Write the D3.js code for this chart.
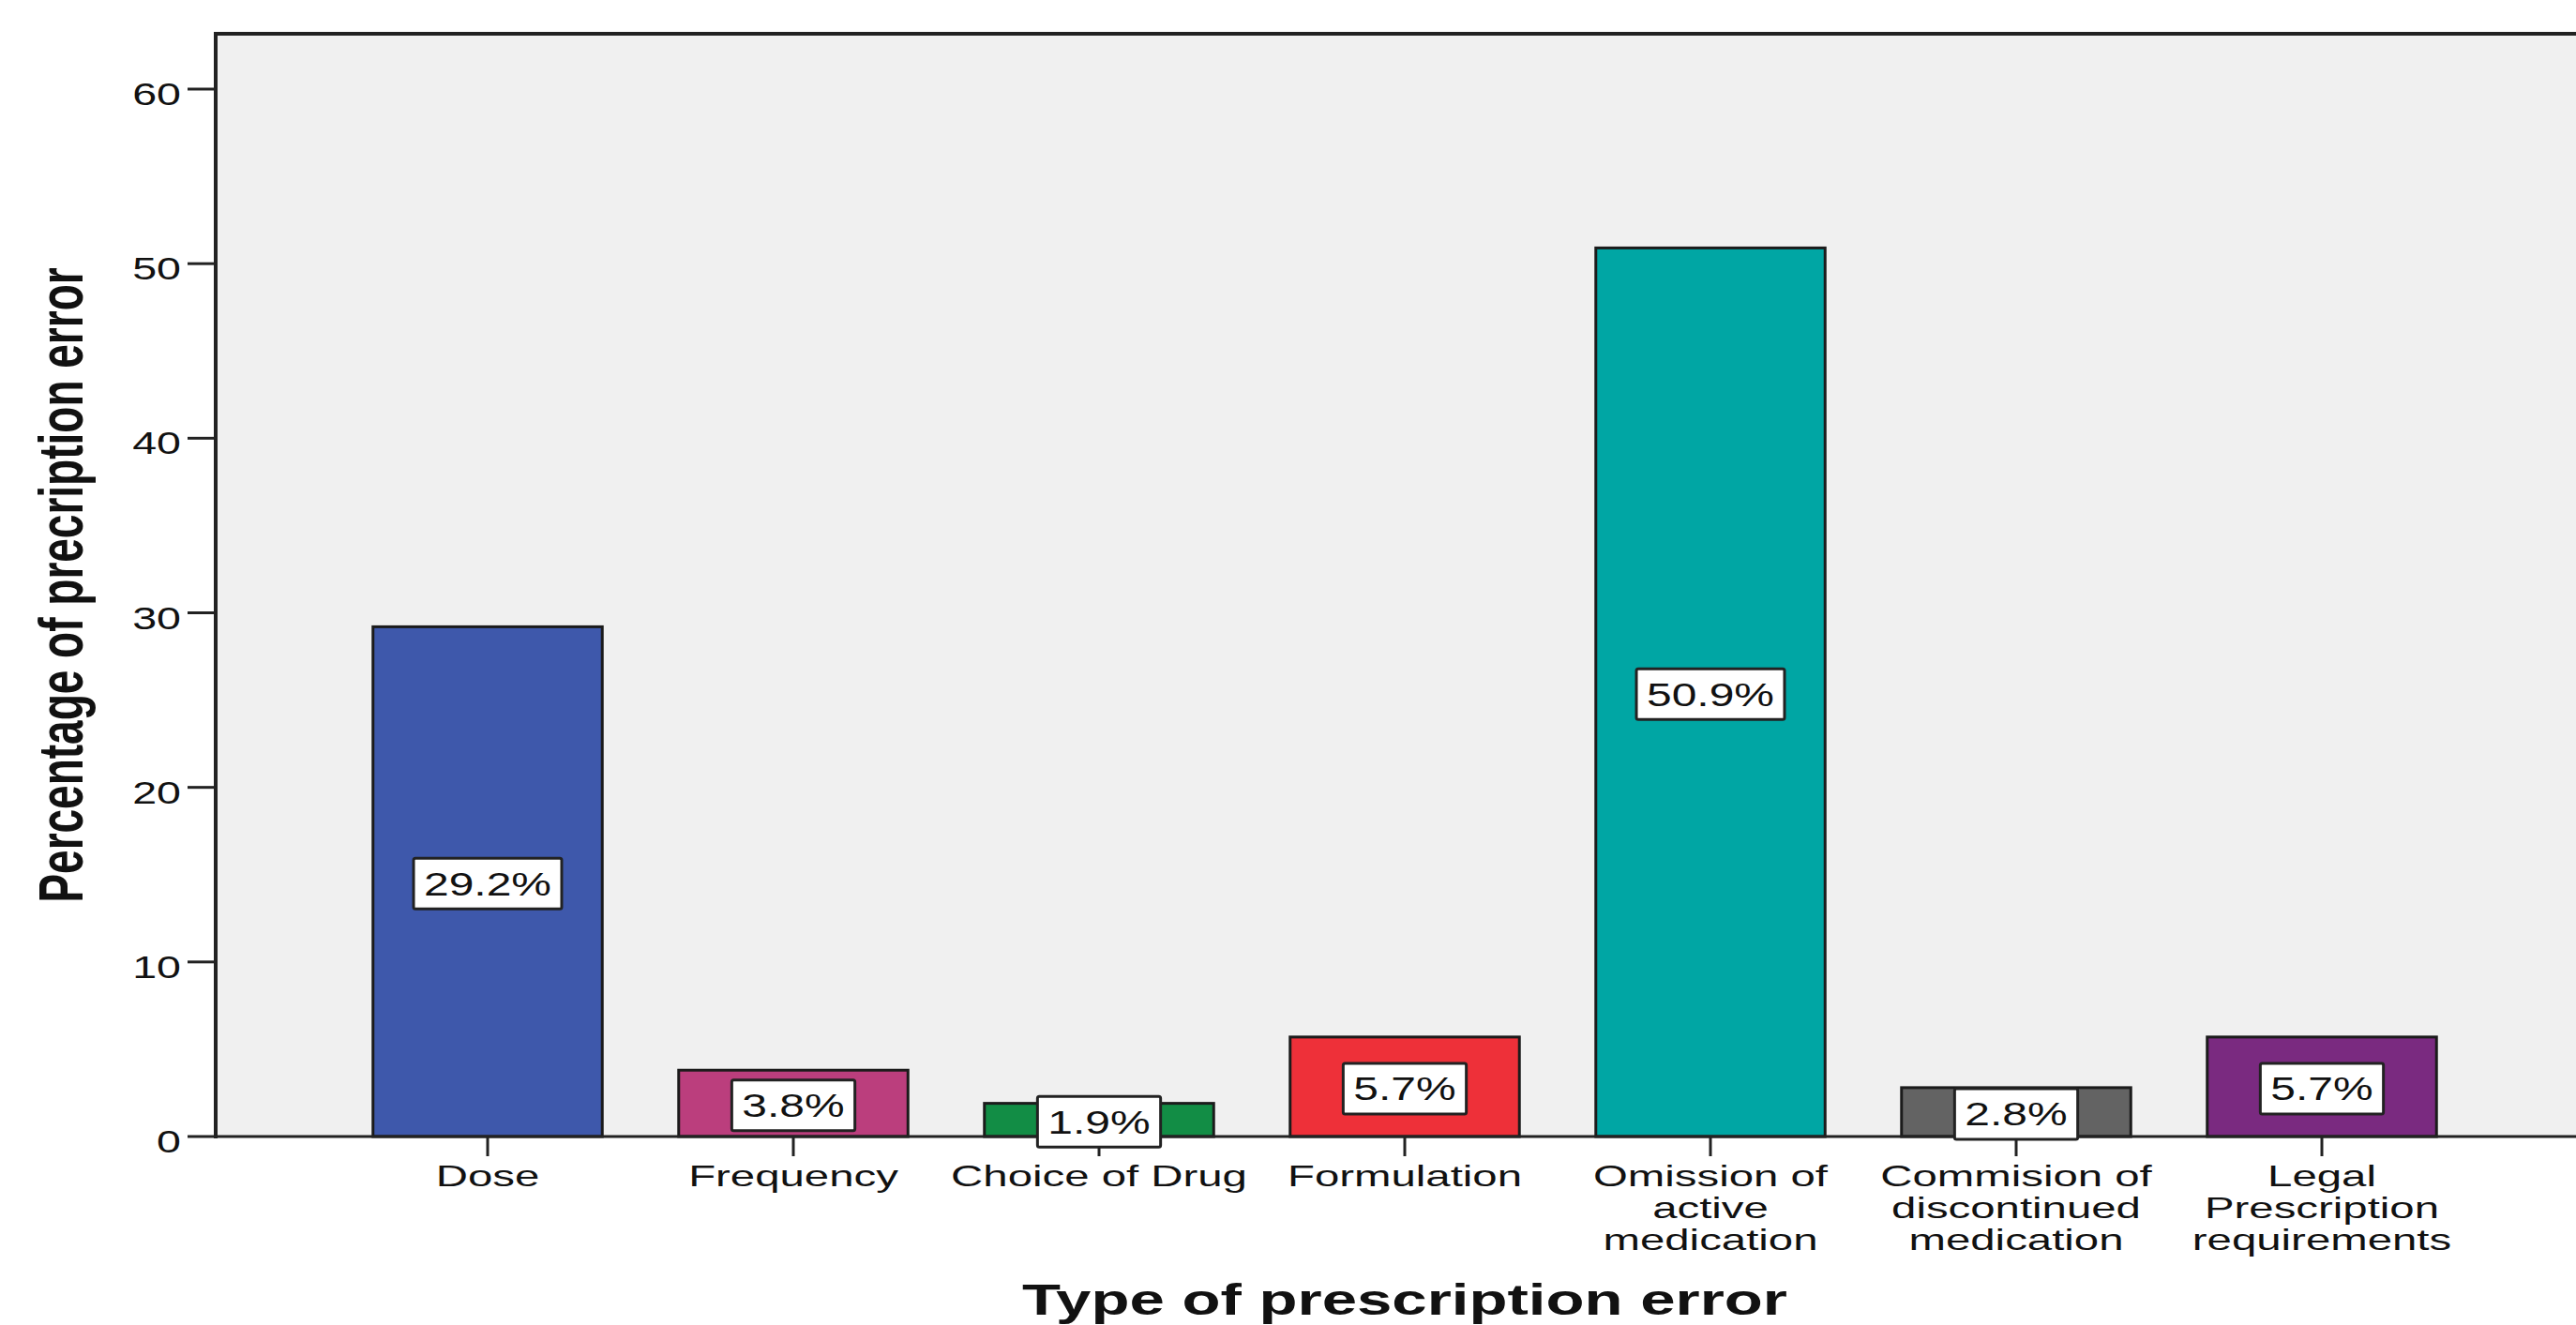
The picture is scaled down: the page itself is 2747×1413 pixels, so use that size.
<!DOCTYPE html>
<html>
<head>
<meta charset="utf-8">
<script src="https://cdn.jsdelivr.net/npm/d3@7"></script>
<style>
  body { margin: 0; background: #ffffff; }
  svg { display: block; }
  text { font-family: "Liberation Sans", Arial, sans-serif; fill: #111; }
</style>
</head>
<body>
<div id="chart"></div>
<script>
// chart data
const categories = ["Dose", "Frequency", "Choice of Drug", "Formulation",
    "Omission of active medication", "Commision of discontinued medication",
    "Legal Prescription requirements"];
const labelLines = [
    ["Dose"], ["Frequency"], ["Choice of Drug"], ["Formulation"],
    ["Omission of", "active", "medication"],
    ["Commision of", "discontinued", "medication"],
    ["Legal", "Prescription", "requirements"]
];
const values = [29.2, 3.8, 1.9, 5.7, 50.9, 2.8, 5.7];
const barColors = ["#3e58ab", "#bb3e7d", "#128d45", "#ee3039", "#00a6a4", "#636363", "#7a2a80"];
const yTicks = [0, 10, 20, 30, 40, 50, 60];

const W = 2747, H = 1413;
const plot = { left: 230, top: 36, bottom: 1212 };
// the source picture is stretched sideways, so text is widened to match
const stretch = { tick: 1.37, value: 1.37, cat: 1.48, title: 1.46 };

const svg = d3.select("#chart").append("svg")
    .attr("width", W)
    .attr("height", H);

const x = d3.scaleBand()
    .domain(categories)
    .range([357, 2639])
    .paddingInner(0.25)
    .paddingOuter(0.125);

const y = d3.scaleLinear()
    .domain([0, 60])
    .range([plot.bottom, 95]);

// plot background
svg.append("rect")
    .attr("x", plot.left)
    .attr("y", plot.top)
    .attr("width", W - plot.left)
    .attr("height", plot.bottom - plot.top)
    .attr("fill", "#f0f0f0");

// bars
svg.append("g")
    .selectAll("rect")
    .data(values)
    .join("rect")
    .attr("x", (d, i) => x(categories[i]))
    .attr("y", d => y(d))
    .attr("width", x.bandwidth())
    .attr("height", d => y(0) - y(d))
    .attr("fill", (d, i) => barColors[i])
    .attr("stroke", "#1b1b1b")
    .attr("stroke-width", 3);

// frame: top line, left axis, bottom axis
svg.append("line")
    .attr("x1", plot.left).attr("x2", W)
    .attr("y1", plot.top).attr("y2", plot.top)
    .attr("stroke", "#222").attr("stroke-width", 4);

svg.append("line")
    .attr("x1", plot.left).attr("x2", plot.left)
    .attr("y1", plot.top - 2).attr("y2", plot.bottom + 2)
    .attr("stroke", "#222").attr("stroke-width", 4);

svg.append("line")
    .attr("x1", plot.left).attr("x2", W)
    .attr("y1", plot.bottom).attr("y2", plot.bottom)
    .attr("stroke", "#222").attr("stroke-width", 3);

// y ticks and labels
const yTick = svg.append("g")
    .selectAll("g")
    .data(yTicks)
    .join("g");

yTick.append("line")
    .attr("x1", 200).attr("x2", plot.left)
    .attr("y1", d => y(d)).attr("y2", d => y(d))
    .attr("stroke", "#222").attr("stroke-width", 3);

yTick.append("text")
    .attr("transform", d => `translate(193,${y(d) + 17}) scale(${stretch.tick},1)`)
    .attr("text-anchor", "end")
    .attr("font-size", 34)
    .text(d => d);

// x ticks and category labels
const xTick = svg.append("g")
    .selectAll("g")
    .data(categories)
    .join("g");

xTick.append("line")
    .attr("x1", d => x(d) + x.bandwidth() / 2)
    .attr("x2", d => x(d) + x.bandwidth() / 2)
    .attr("y1", plot.bottom).attr("y2", plot.bottom + 21)
    .attr("stroke", "#222").attr("stroke-width", 3);

xTick.each(function(d, i) {
    const cx = x(d) + x.bandwidth() / 2;
    d3.select(this).selectAll("text")
        .data(labelLines[i])
        .join("text")
        .attr("transform", (t, j) => `translate(${cx},${1265 + j * 34}) scale(${stretch.cat},1)`)
        .attr("text-anchor", "middle")
        .attr("font-size", 32)
        .text(t => t);
});

// value labels in white boxes at half bar height
const valueLabel = svg.append("g")
    .selectAll("g")
    .data(values)
    .join("g")
    .attr("transform", (d, i) => `translate(${x(categories[i]) + x.bandwidth() / 2},${y(d / 2) + 2})`);

valueLabel.append("rect")
    .attr("fill", "#ffffff")
    .attr("stroke", "#222")
    .attr("stroke-width", 3)
    .attr("rx", 2);

const valueText = valueLabel.append("text")
    .attr("transform", `translate(0,12.5) scale(${stretch.value},1)`)
    .attr("text-anchor", "middle")
    .attr("font-size", 35)
    .text(d => d.toFixed(1) + "%");

valueText.each(function() {
    const w = this.getComputedTextLength() * stretch.value + 22;
    d3.select(this.parentNode).select("rect")
        .attr("x", -w / 2)
        .attr("y", -27)
        .attr("width", w)
        .attr("height", 54);
});

// axis titles
svg.append("text")
    .attr("transform", `translate(88,624) scale(${stretch.title},1) rotate(-90)`)
    .attr("text-anchor", "middle")
    .attr("font-size", 46)
    .attr("font-weight", "bold")
    .text("Percentage of precription error");

svg.append("text")
    .attr("transform", `translate(1498,1402) scale(${stretch.title},1)`)
    .attr("text-anchor", "middle")
    .attr("font-size", 46)
    .attr("font-weight", "bold")
    .text("Type of prescription error");
</script>
</body>
</html>
